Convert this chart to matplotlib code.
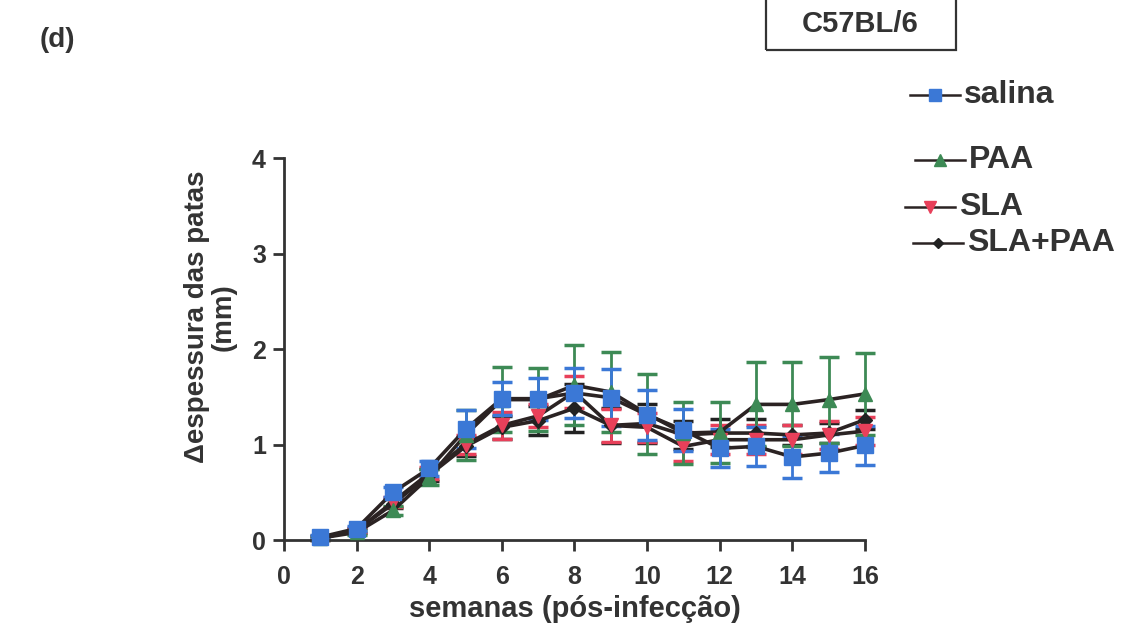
import matplotlib
matplotlib.use("Agg")
import matplotlib.pyplot as plt
from matplotlib.lines import Line2D
from matplotlib.patches import Rectangle

plt.rcParams["font.family"] = ["Liberation Sans", "DejaVu Sans"]
plt.rcParams["font.weight"] = "bold"

weeks = list(range(1, 17))

salina = [0.03, 0.12, 0.50, 0.75, 1.16, 1.48, 1.48, 1.54, 1.49, 1.31, 1.15, 0.96, 0.98, 0.87, 0.91, 0.99]
salina_err = [0.02, 0.03, 0.05, 0.08, 0.20, 0.17, 0.22, 0.26, 0.30, 0.26, 0.22, 0.20, 0.20, 0.22, 0.20, 0.20]

paa = [0.02, 0.08, 0.31, 0.66, 1.10, 1.47, 1.47, 1.62, 1.55, 1.32, 1.12, 1.13, 1.42, 1.42, 1.47, 1.53]
paa_err = [0.02, 0.03, 0.05, 0.08, 0.26, 0.34, 0.33, 0.42, 0.42, 0.42, 0.32, 0.32, 0.44, 0.44, 0.45, 0.43]

sla = [0.02, 0.10, 0.40, 0.70, 1.00, 1.20, 1.30, 1.55, 1.20, 1.18, 0.98, 1.05, 1.05, 1.05, 1.10, 1.14]
sla_err = [0.02, 0.03, 0.05, 0.06, 0.10, 0.14, 0.12, 0.17, 0.17, 0.15, 0.15, 0.15, 0.15, 0.15, 0.15, 0.15]

sla_paa = [0.02, 0.10, 0.38, 0.68, 0.98, 1.18, 1.25, 1.38, 1.20, 1.22, 1.10, 1.12, 1.12, 1.10, 1.12, 1.26]
sla_paa_err = [0.02, 0.03, 0.05, 0.06, 0.10, 0.12, 0.15, 0.25, 0.18, 0.20, 0.15, 0.15, 0.15, 0.10, 0.10, 0.10]

labels = ["salina", "PAA", "SLA", "SLA+PAA"]
LINE_C = "#2b2323"
TXT_C = "#333333"

# (values, errors, marker, colour, marker size)
series = {
    "SLA+PAA": (sla_paa, sla_paa_err, "D", "#222222", 7),
    "SLA": (sla, sla_err, "v", "#e8405a", 10),
    "PAA": (paa, paa_err, "^", "#3d8a55", 10),
    "salina": (salina, salina_err, "s", "#3b78d6", 11),
}

fig = plt.figure(figsize=(11.27, 6.31), dpi=100)
ax = fig.add_axes((0.252, 0.1442, 0.5155, 0.6054))

for name, (vals, errs, mk, col, ms) in series.items():
    eb = ax.errorbar(weeks, vals, yerr=errs, fmt="none", ecolor=col,
                     elinewidth=2, capsize=7, capthick=2.5, zorder=2)
    for art in eb.lines[1] + eb.lines[2]:
        art.set_clip_on(False)
    ax.plot(weeks, vals, color=LINE_C, lw=2.6, zorder=3, clip_on=False)
    ax.plot(weeks, vals, ls="none", marker=mk, ms=ms, color=col,
            mec=col, zorder=4, clip_on=False)

ax.set_xlim(0, 16)
ax.set_ylim(0, 4)
ax.set_xticks(range(0, 17, 2))
ax.set_yticks(range(0, 5))
for s in ("top", "right"):
    ax.spines[s].set_visible(False)
for s in ("left", "bottom"):
    ax.spines[s].set_linewidth(2)
    ax.spines[s].set_color(TXT_C)
ax.tick_params(width=2, length=8, labelsize=18, color=TXT_C, labelcolor=TXT_C, pad=5)
ax.tick_params(axis="x", pad=10)
for lbl in ax.get_xticklabels() + ax.get_yticklabels():
    lbl.set_fontweight("bold")

ax.set_xlabel("semanas (pós-infecção)", fontsize=21, fontweight="bold",
              color=TXT_C, labelpad=4)
fig.text(210 / 1127, 1 - 317 / 631, "Δespessura das patas\n(mm)", fontsize=20,
         fontweight="bold", color=TXT_C, rotation=90, ha="center", va="center",
         multialignment="center", linespacing=1.05)

# panel letter and strain box
fig.text(40 / 1127, 1 - 40 / 631, "(d)", fontsize=20, fontweight="bold",
         color=TXT_C, ha="left", va="center")
fig.text(860 / 1127, 1 - 24 / 631, "C57BL/6", fontsize=21, fontweight="bold",
         color=TXT_C, ha="center", va="center")
fig.add_artist(Rectangle((766 / 1127, 1 - 50 / 631), 190 / 1127, 60 / 631,
                         transform=fig.transFigure, fill=False,
                         ec=TXT_C, lw=1.6))

# manual legend (uneven spacing as in original)
leg_y = {"salina": 95, "PAA": 160, "SLA": 207, "SLA+PAA": 243}
leg_x = {"salina": 910, "PAA": 915, "SLA": 905, "SLA+PAA": 913}
for name in labels:
    vals, errs, mk, col, ms = series[name]
    yy = 1 - leg_y[name] / 631
    x0 = leg_x[name] / 1127
    x1 = x0 + 50 / 1127
    fig.add_artist(Line2D([x0, x1], [yy, yy], transform=fig.transFigure,
                          color=LINE_C, lw=1.8))
    fig.add_artist(Line2D([(x0 + x1) / 2], [yy], transform=fig.transFigure,
                          ls="none", marker=mk, ms=ms - 2, color=col, mec=col))
    fig.text(x1 + 4 / 1127, yy, name, fontsize=23, fontweight="bold",
             color=TXT_C, ha="left", va="center")

fig.savefig("out.png", dpi=100, facecolor="white")
